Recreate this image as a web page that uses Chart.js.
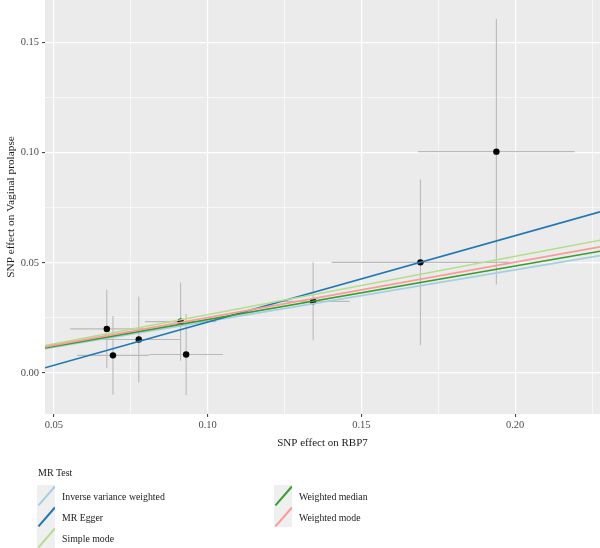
<!DOCTYPE html>
<html>
<head>
<meta charset="utf-8">
<script src="https://cdn.jsdelivr.net/npm/chart.js@4.4.1/dist/chart.umd.min.js"></script>
<style>
  html, body { margin: 0; padding: 0; background: #ffffff; }
  #wrap { position: relative; width: 600px; height: 548px; overflow: hidden; font-family: "Liberation Serif", "DejaVu Serif", serif; color: #1a1a1a; }
  #c { position: absolute; left: 0; top: 0; }
  .lg-title { position: absolute; left: 38px; top: 465px; font-size: 10px; line-height: 16px; }
  .lg-item { position: absolute; height: 21px; }
  .lg-key { position: absolute; left: 0; top: 0; width: 18px; height: 21px; background: #EFEFEF; overflow: hidden; }
  .lg-key span { position: absolute; left: -3px; top: 10px; width: 25px; height: 1.5px; transform: rotate(-49deg); transform-origin: 50% 50%; }
  .lg-text { position: absolute; left: 25px; top: 1px; font-size: 9.8px; line-height: 21px; white-space: nowrap; }
</style>
</head>
<body>
<div id="wrap">
  <canvas id="c" width="600" height="548"></canvas>
  <div class="lg-title">MR Test</div>
  <div id="legend"></div>
</div>
<script>
// ---- data ----
const snpX   = [0.0672, 0.0692, 0.0776, 0.0912, 0.0930, 0.1343, 0.1692, 0.1939];
const snpY   = [0.0200, 0.0080, 0.0152, 0.0233, 0.0084, 0.0325, 0.0502, 0.1004];
const snpXse = [0.0119, 0.0117, 0.0136, 0.0116, 0.0120, 0.0119, 0.0289, 0.0255];
const snpYse = [0.0178, 0.0179, 0.0195, 0.0178, 0.0184, 0.0177, 0.0376, 0.0603];

const methods    = ["Inverse variance weighted", "MR Egger", "Simple mode", "Weighted median", "Weighted mode"];
const slopes     = [0.234, 0.392, 0.2646, 0.2427, 0.2515];
const intercepts = [0, -0.0161, 0, 0, 0];
const colors     = ["#A6CEE3", "#1F78B4", "#B2DF8A", "#33A02C", "#FB9A99"];

const xMajor = [0.05, 0.10, 0.15, 0.20];
const xMinor = [0.075, 0.125, 0.175, 0.225];
const yMajor = [0.00, 0.05, 0.10, 0.15];
const yMinor = [0.025, 0.075, 0.125];
const xLimits = [0.0471, 0.2276];
const yLimits = [-0.0186, 0.1692];

// ---- datasets ----
const lineSets = methods.map((m, i) => ({
  type: 'line',
  label: m,
  data: xLimits.map(x => ({ x: x, y: intercepts[i] + slopes[i] * x })),
  borderColor: colors[i],
  borderWidth: 1.7,
  pointRadius: 0,
  fill: false,
  order: methods.length - i
}));
const pointSet = {
  type: 'scatter',
  label: 'SNPs',
  data: snpX.map((x, i) => ({ x: x, y: snpY[i] })),
  backgroundColor: '#000000',
  borderColor: '#000000',
  pointRadius: 3.2,
  pointBorderWidth: 0,
  order: 20
};

const panelBg = {
  id: 'panelBg',
  beforeDraw(chart) {
    const a = chart.chartArea, ctx = chart.ctx;
    ctx.save();
    ctx.fillStyle = '#EBEBEB';
    ctx.fillRect(a.left, a.top, a.right - a.left, a.bottom - a.top);
    ctx.restore();
  }
};
const errorBars = {
  id: 'errorBars',
  beforeDatasetsDraw(chart) {
    const a = chart.chartArea, ctx = chart.ctx;
    const xs = chart.scales.x, ys = chart.scales.y;
    ctx.save();
    ctx.beginPath();
    ctx.rect(a.left, a.top, a.right - a.left, a.bottom - a.top);
    ctx.clip();
    ctx.strokeStyle = '#BABABA';
    ctx.lineWidth = 1.1;
    for (let i = 0; i < snpX.length; i++) {
      const px = xs.getPixelForValue(snpX[i]);
      const py = ys.getPixelForValue(snpY[i]);
      ctx.beginPath();
      ctx.moveTo(px, ys.getPixelForValue(snpY[i] - snpYse[i]));
      ctx.lineTo(px, ys.getPixelForValue(snpY[i] + snpYse[i]));
      ctx.stroke();
      ctx.beginPath();
      ctx.moveTo(xs.getPixelForValue(snpX[i] - snpXse[i]), py);
      ctx.lineTo(xs.getPixelForValue(snpX[i] + snpXse[i]), py);
      ctx.stroke();
    }
    ctx.restore();
  }
};

const FONT = "'Liberation Serif', 'DejaVu Serif', serif";
const isMajor = (list, v) => list.some(m => Math.abs(m - v) < 1e-9);
const noPad = s => { s.paddingLeft = 0; s.paddingRight = 0; s.paddingTop = 0; s.paddingBottom = 0; };

new Chart(document.getElementById('c'), {
  data: { datasets: [...lineSets, pointSet] },
  options: {
    responsive: false,
    animation: false,
    events: [],
    layout: { autoPadding: false, padding: { left: 0, right: 0, top: 0, bottom: 98 } },
    plugins: { legend: { display: false }, tooltip: { enabled: false } },
    scales: {
      x: {
        type: 'linear',
        min: xLimits[0], max: xLimits[1],
        afterBuildTicks(s) { s.ticks = [...xMajor, ...xMinor].sort((a, b) => a - b).map(v => ({ value: v })); },
        afterFit(s) { s.height = 36; noPad(s); },
        border: { display: false },
        grid: {
          color: '#FFFFFF',
          lineWidth: c => (c.tick && isMajor(xMajor, c.tick.value)) ? 1.2 : 0.6,
          tickColor: c => (c.tick && isMajor(xMajor, c.tick.value)) ? '#333333' : 'rgba(0,0,0,0)',
          tickLength: 3,
          tickWidth: 1
        },
        ticks: {
          autoSkip: false, maxRotation: 0, padding: 2,
          color: '#4D4D4D',
          font: { family: FONT, size: 10.5 },
          callback: v => isMajor(xMajor, v) ? v.toFixed(2) : ''
        },
        title: { display: true, text: 'SNP effect on RBP7', color: '#1a1a1a', font: { family: FONT, size: 11 }, padding: { top: 2, bottom: 0 } }
      },
      y: {
        type: 'linear',
        min: yLimits[0], max: yLimits[1],
        afterBuildTicks(s) { s.ticks = [...yMajor, ...yMinor].sort((a, b) => a - b).map(v => ({ value: v })); },
        afterFit(s) { s.width = 45; noPad(s); },
        border: { display: false },
        grid: {
          color: '#FFFFFF',
          lineWidth: c => (c.tick && isMajor(yMajor, c.tick.value)) ? 1.2 : 0.6,
          tickColor: c => (c.tick && isMajor(yMajor, c.tick.value)) ? '#333333' : 'rgba(0,0,0,0)',
          tickLength: 3,
          tickWidth: 1
        },
        ticks: {
          autoSkip: false, padding: 3,
          color: '#4D4D4D',
          font: { family: FONT, size: 10.5 },
          callback: v => isMajor(yMajor, v) ? v.toFixed(2) : ''
        },
        title: { display: true, text: 'SNP effect on Vaginal prolapse', color: '#1a1a1a', font: { family: FONT, size: 11.3 }, padding: { top: 4, bottom: 0 } }
      }
    }
  },
  plugins: [panelBg, errorBars]
});

// ---- legend (HTML, real text) ----
const legendPos = [
  { left: 37, top: 485 }, { left: 37, top: 506 }, { left: 37, top: 527 },
  { left: 274, top: 485 }, { left: 274, top: 506 }
];
const lg = document.getElementById('legend');
methods.forEach((m, i) => {
  const item = document.createElement('div');
  item.className = 'lg-item';
  item.style.left = legendPos[i].left + 'px';
  item.style.top = legendPos[i].top + 'px';
  item.innerHTML = '<div class="lg-key"><span style="background:' + colors[i] + '"></span></div><div class="lg-text"></div>';
  item.querySelector('.lg-text').textContent = m;
  lg.appendChild(item);
});
</script>
</body>
</html>
